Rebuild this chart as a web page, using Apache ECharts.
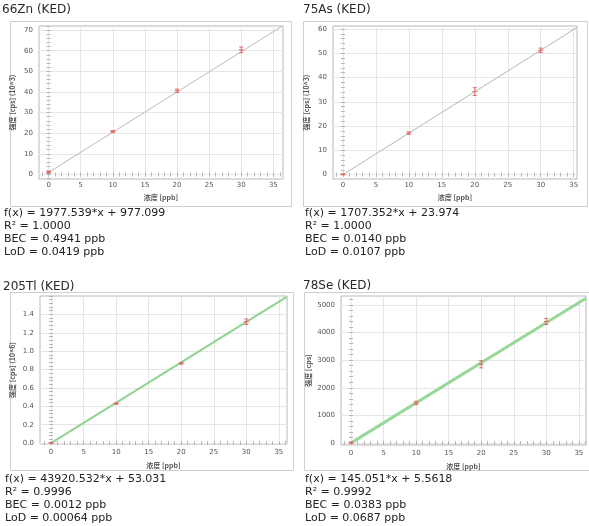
<!DOCTYPE html>
<html>
<head>
<meta charset="utf-8">
<script src="https://cdn.jsdelivr.net/npm/echarts@6/dist/echarts.min.js"></script>
<style>
  html, body { margin: 0; padding: 0; background: #fff; }
  #main { width: 589px; height: 526px; }
</style>
</head>
<body>
<div id="main"></div>
<script>
// 标题
var titles = ['66Zn (KED)', '75As (KED)', '205Tl (KED)', '78Se (KED)'];
var yNames = ['强度 [cps] (10^3)', '强度 [cps] (10^3)', '强度 [cps] (10^6)', '强度 [cps]'];
var xName = '浓度 [ppb]';

// 标准点 [浓度, 强度, 误差]
var znPoints = [[0, 1.0, 0.4], [10, 20.8, 0.5], [20, 40.6, 0.8], [30, 60.4, 1.4]];
var asPoints = [[0, 0.1, 0.2], [10, 17.1, 0.5], [20, 34.2, 1.6], [30, 51.2, 0.9]];
var tlPoints = [[0, 0.002, 0.003], [10, 0.43, 0.008], [20, 0.868, 0.01], [30, 1.32, 0.03]];
var sePoints = [[0, 10, 30], [10, 1450, 60], [20, 2850, 130], [30, 4400, 110]];

// 拟合直线端点
var znLine = [[0, 1.0], [36.4, 72.0]];
var asLine = [[0, 0.0], [35.5, 60.6]];
var tlLine = [[0, 0.0], [36.2, 1.59]];
var seLine = [[0, 6], [36.1, 5240]];

// 刻度
var xTicks = [0, 5, 10, 15, 20, 25, 30, 35];
var znTicks = [0, 10, 20, 30, 40, 50, 60, 70];
var asTicks = [0, 10, 20, 30, 40, 50, 60];
var tlTicks = [0, 0.2, 0.4, 0.6, 0.8, 1.0, 1.2, 1.4];
var seTicks = [0, 1000, 2000, 3000, 4000, 5000];

// 结果文字
var znText = ['f(x) = 1977.539*x + 977.099', 'R² = 1.0000', 'BEC = 0.4941 ppb', 'LoD = 0.0419 ppb'];
var asText = ['f(x) = 1707.352*x + 23.974', 'R² = 1.0000', 'BEC = 0.0140 ppb', 'LoD = 0.0107 ppb'];
var tlText = ['f(x) = 43920.532*x + 53.031', 'R² = 0.9996', 'BEC = 0.0012 ppb', 'LoD = 0.00064 ppb'];
var seText = ['f(x) = 145.051*x + 5.5618', 'R² = 0.9992', 'BEC = 0.0383 ppb', 'LoD = 0.0687 ppb'];

var panels = [
  { points: znPoints, line: znLine, yTicks: znTicks, text: znText,
    grid: { left: 39, top: 26, width: 244, height: 153 }, xMin: -1.5, xMax: 36.5, yMin: -2.2, yMax: 72, yMinor: 2,
    frame: [10, 21, 281, 185], px: 2, ty: 10, textY: 213, lineColor: '#c4b4b4', lineWidth: 1, dec: 0,
    labelGap: 3, nameGap: 15, yNameGap: 23 },
  { points: asPoints, line: asLine, yTicks: asTicks, text: asText,
    grid: { left: 333, top: 26, width: 244, height: 153 }, xMin: -1.5, xMax: 35.5, yMin: -1.8, yMax: 61.2, yMinor: 2,
    frame: [303, 21, 284, 185], px: 303, ty: 10, textY: 213, lineColor: '#a8c0a8', lineWidth: 1, dec: 0,
    labelGap: 3, nameGap: 15, yNameGap: 23 },
  { points: tlPoints, line: tlLine, yTicks: tlTicks, text: tlText,
    grid: { left: 40, top: 296, width: 247, height: 148 }, xMin: -1.7, xMax: 36.25, yMin: -0.01, yMax: 1.6, yMinor: 0.04,
    frame: [10, 292, 283, 178], px: 3, ty: 287, textY: 479, lineColor: '#90d490', lineWidth: 2, dec: 1,
    labelGap: 5, nameGap: 18, yNameGap: 24 },
  { points: sePoints, line: seLine, yTicks: seTicks, text: seText,
    grid: { left: 341, top: 296, width: 245, height: 149 }, xMin: -1.55, xMax: 36.1, yMin: -70, yMax: 5320, yMinor: 200,
    frame: [304, 292, 290, 178], px: 303, ty: 286, textY: 479, lineColor: '#98d898', lineWidth: 3, dec: 0,
    labelGap: 5, nameGap: 18, yNameGap: 29 }
];

var font = 'DejaVu Sans';
var cjk = '"Noto Sans CJK SC", sans-serif';

function range(min, max, step) {
  var out = [];
  var start = Math.ceil(min / step - 1e-9);
  for (var i = start; i * step <= max + 1e-9; i++) out.push(+(i * step).toFixed(6));
  return out;
}

function renderErr(params, api) {
  var x = api.value(0), y = api.value(1), e = api.value(2);
  var top = api.coord([x, y + e]);
  var bot = api.coord([x, y - e]);
  var mid = api.coord([x, y]);
  var st = { stroke: '#e06a6a', lineWidth: 1 };
  return {
    type: 'group',
    children: [
      { type: 'line', shape: { x1: top[0], y1: top[1], x2: bot[0], y2: bot[1] }, style: st },
      { type: 'line', shape: { x1: top[0] - 2, y1: top[1], x2: top[0] + 2, y2: top[1] }, style: st },
      { type: 'line', shape: { x1: bot[0] - 2, y1: bot[1], x2: bot[0] + 2, y2: bot[1] }, style: st },
      { type: 'line', shape: { x1: mid[0] - 2.5, y1: mid[1], x2: mid[0] + 2.5, y2: mid[1] }, style: st }
    ]
  };
}

var grids = [], xAxes = [], yAxes = [], series = [], graphics = [];
var tickStyle = { color: '#b4b4b4', width: 1 };
var splitStyle = { color: '#e6e6e6', width: 1 };
var labelStyle = { fontSize: 7, color: '#555', fontFamily: font };

panels.forEach(function (p, g) {
  grids.push(Object.assign({ show: true, borderColor: '#b8b8b8', borderWidth: 1, backgroundColor: '#fff' }, p.grid));
  var xMinor = range(p.xMin, p.xMax, 1);
  var yMinor = range(p.yMin, p.yMax, p.yMinor);
  var base = { type: 'value', gridIndex: g, min: p.xMin, max: p.xMax, axisLine: { show: false } };
  xAxes.push(Object.assign({}, base, {
    position: 'bottom',
    axisTick: { show: true, inside: true, length: 2, customValues: xMinor, lineStyle: tickStyle },
    axisLabel: Object.assign({ customValues: xTicks, margin: p.labelGap }, labelStyle),
    splitLine: { show: false },
    name: xName, nameLocation: 'middle', nameGap: p.nameGap,
    nameTextStyle: { fontSize: 7, color: '#555', fontFamily: cjk, fontWeight: 'bold' }
  }));
  xAxes.push(Object.assign({}, base, {
    position: 'top',
    axisTick: { show: true, inside: true, length: 2, customValues: xMinor, lineStyle: tickStyle },
    axisLabel: { show: false }, splitLine: { show: false }
  }));
  xAxes.push(Object.assign({}, base, {
    position: 'bottom',
    axisTick: { show: false, customValues: xTicks },
    axisLabel: { show: false },
    splitLine: { show: true, lineStyle: splitStyle }
  }));
  var ybase = { type: 'value', gridIndex: g, min: p.yMin, max: p.yMax, axisLine: { show: false } };
  yAxes.push(Object.assign({}, ybase, {
    position: 'left',
    axisTick: { show: true, inside: true, length: 2, customValues: yMinor, lineStyle: tickStyle },
    axisLabel: Object.assign({ customValues: p.yTicks, margin: 6, formatter: function (v) { return v.toFixed(p.dec); } }, labelStyle),
    splitLine: { show: false },
    name: yNames[g], nameLocation: 'middle', nameRotate: 90, nameGap: p.yNameGap,
    nameTextStyle: { fontSize: 7, color: '#555', fontFamily: cjk, fontWeight: 'bold' }
  }));
  yAxes.push(Object.assign({}, ybase, {
    position: 'right',
    axisTick: { show: true, inside: true, length: 2, customValues: yMinor, lineStyle: tickStyle },
    axisLabel: { show: false }, splitLine: { show: false }
  }));
  yAxes.push(Object.assign({}, ybase, {
    position: 'left',
    axisTick: { show: false, customValues: p.yTicks },
    axisLabel: { show: false },
    splitLine: { show: true, lineStyle: splitStyle }
  }));

  series.push({
    type: 'line', xAxisIndex: g * 3, yAxisIndex: g * 3, data: p.line,
    symbol: 'none', silent: true, clip: true,
    lineStyle: { color: p.lineColor, width: p.lineWidth }
  });
  series.push({
    type: 'custom', xAxisIndex: g * 3, yAxisIndex: g * 3, data: p.points,
    renderItem: renderErr, z: 5
  });

  graphics.push({
    type: 'rect', shape: { x: p.frame[0] + 0.5, y: p.frame[1] + 0.5, width: p.frame[2], height: p.frame[3] },
    style: { fill: 'none', stroke: '#cfcfcf', lineWidth: 1 }, z: -10
  });
  graphics.push({
    type: 'text', x: p.px, y: p.ty,
    style: { text: titles[g], fontSize: 12, fontFamily: font, fill: '#2a2a2a', textVerticalAlign: 'middle' }
  });
  p.text.forEach(function (t, i) {
    graphics.push({
      type: 'text', x: p.px + 2, y: p.textY + i * 13,
      style: { text: t, fontSize: 11, fontFamily: font, fill: '#222', textVerticalAlign: 'middle' }
    });
  });
});

var myChart = echarts.init(document.getElementById('main'));
myChart.setOption({
  backgroundColor: '#fff',
  animation: false,
  grid: grids,
  xAxis: xAxes,
  yAxis: yAxes,
  series: series,
  graphic: graphics
});
</script>
</body>
</html>
